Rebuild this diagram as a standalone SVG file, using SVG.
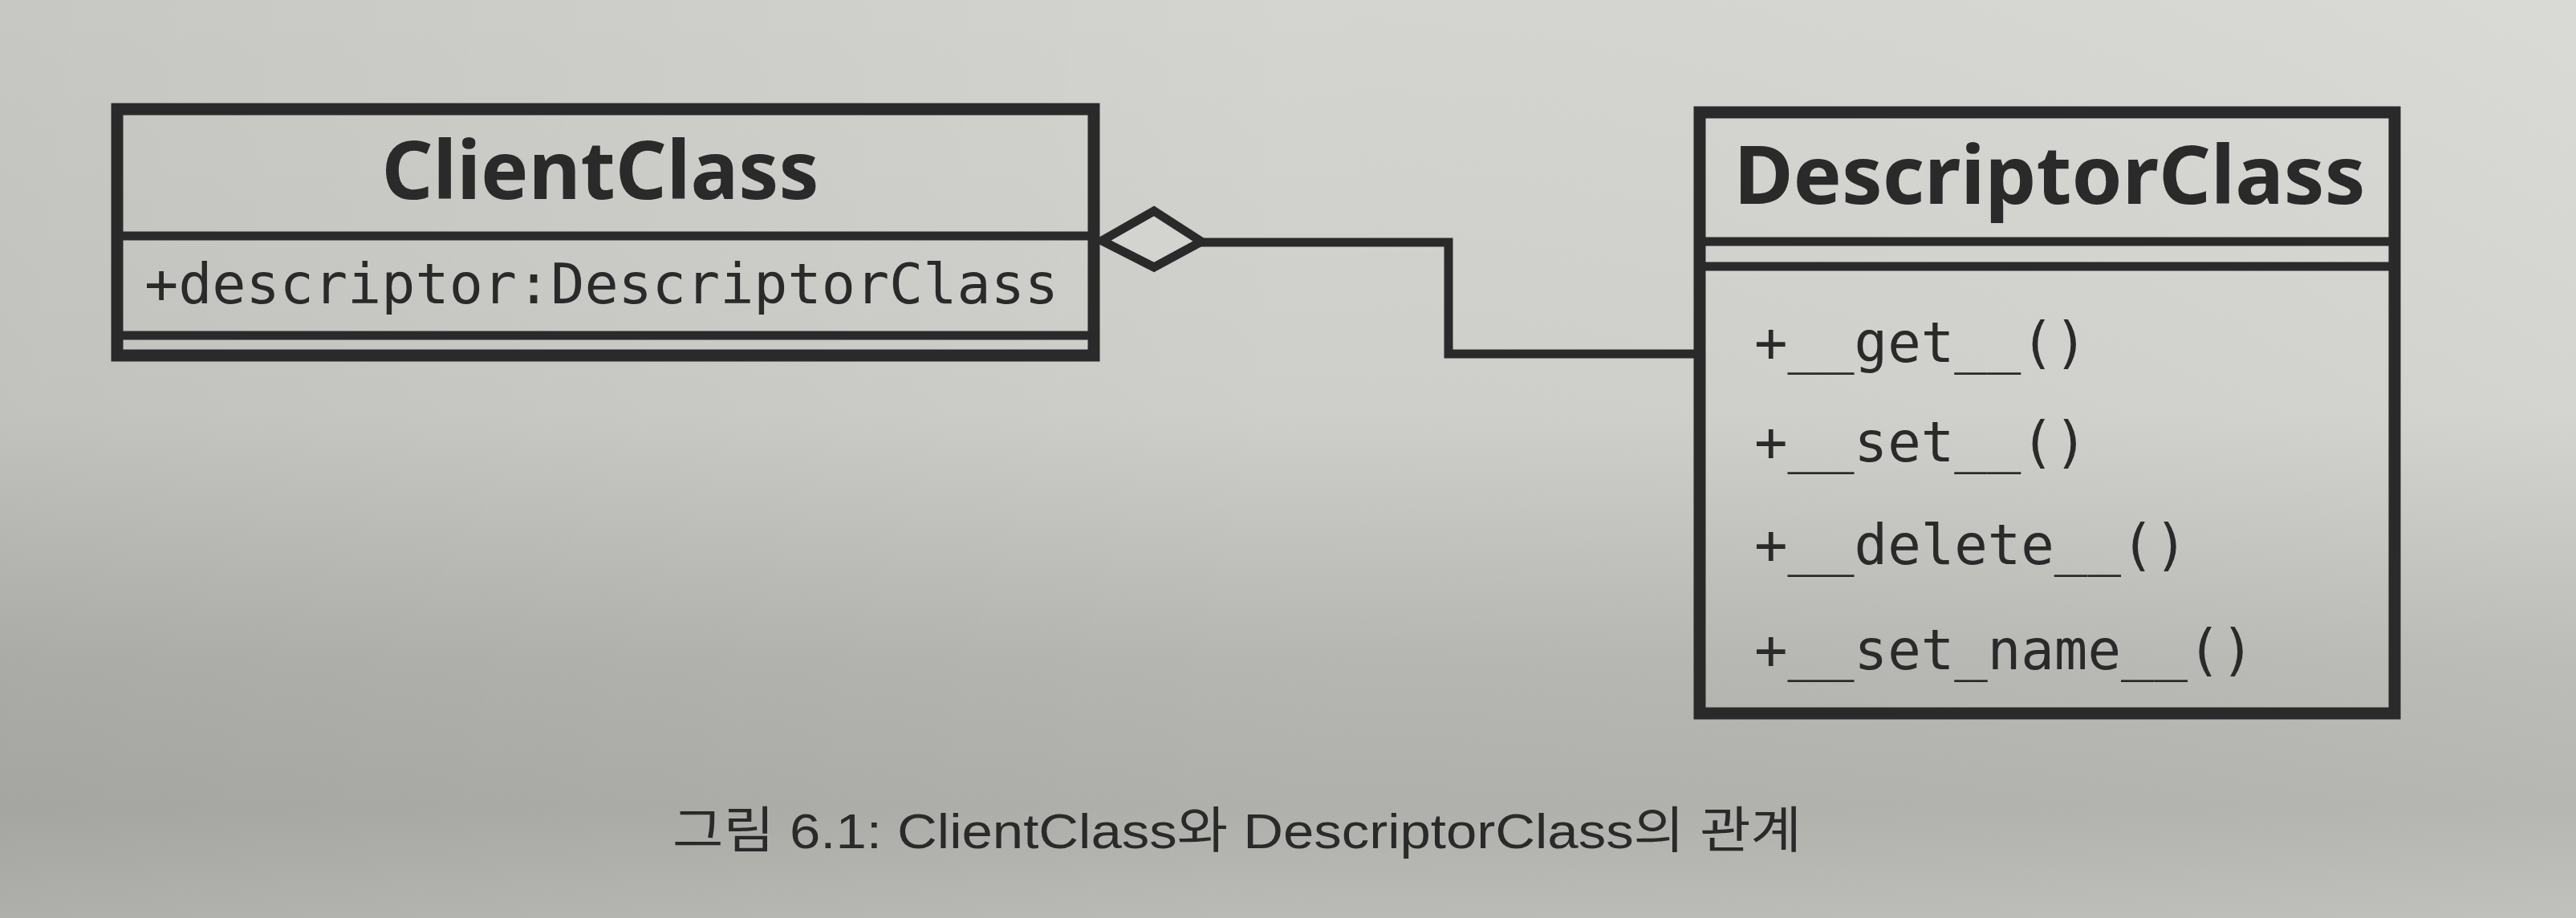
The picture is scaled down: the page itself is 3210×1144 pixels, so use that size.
<svg xmlns="http://www.w3.org/2000/svg" width="3210" height="1144" viewBox="0 0 3210 1144">
  <defs>
    <linearGradient id="bgv" x1="0" y1="0" x2="0" y2="1">
      <stop offset="0" stop-color="#d8d9d4"/>
      <stop offset="0.45" stop-color="#d2d3ce"/>
      <stop offset="0.72" stop-color="#b9bab5"/>
      <stop offset="0.88" stop-color="#b3b4af"/>
      <stop offset="1" stop-color="#bebfba"/>
    </linearGradient>
    <linearGradient id="bgh" x1="0" y1="0" x2="1" y2="0">
      <stop offset="0" stop-color="#000" stop-opacity="0.08"/>
      <stop offset="0.5" stop-color="#000" stop-opacity="0.02"/>
      <stop offset="1" stop-color="#fff" stop-opacity="0.04"/>
    </linearGradient>
  </defs>
  <style>
    .box { fill: none; stroke: #2a2a2a; stroke-width: 15; }
    .div { stroke: #2a2a2a; stroke-width: 11; }
    .title { font-family: "Noto Sans", "Open Sans", "DejaVu Sans", sans-serif; font-weight: bold; font-size: 100px; fill: #2a2a2a; }
    .mono { font-family: "DejaVu Sans Mono", "Liberation Mono", monospace; font-size: 69px; fill: #2a2a2a; }
    .conn { fill: none; stroke: #2a2a2a; stroke-width: 11; }
    .diamond { fill: #d3d4cf; stroke: #2a2a2a; stroke-width: 11; stroke-linejoin: miter; }
    .caption { font-family: "Liberation Sans", "Noto Sans CJK KR", sans-serif; font-size: 62px; fill: #2a2a2a; }
  </style>
  <rect x="0" y="0" width="3210" height="1144" fill="url(#bgv)"/>
  <rect x="0" y="0" width="3210" height="1144" fill="url(#bgh)"/>

  <g id="connectors">
    <polyline class="conn" points="1496,302 1805,302 1805,441 2118,441"/>
    <polygon class="diamond" points="1373,300 1438,263 1497,301 1438,333"/>
  </g>

  <g id="ClientClass">
    <rect class="box" x="146" y="136" width="1217" height="307"/>
    <line class="div" x1="146" y1="294" x2="1363" y2="294"/>
    <line class="div" x1="146" y1="418" x2="1363" y2="418"/>
    <text class="title" x="748" y="248" text-anchor="middle" textLength="545" lengthAdjust="spacingAndGlyphs">ClientClass</text>
    <text class="mono" x="180" y="378" font-size="70" textLength="1139" lengthAdjust="spacingAndGlyphs">+descriptor:DescriptorClass</text>
  </g>

  <g id="DescriptorClass">
    <rect class="box" x="2118" y="140" width="866" height="749"/>
    <line class="div" x1="2118" y1="301" x2="2984" y2="301"/>
    <line class="div" x1="2118" y1="332" x2="2984" y2="332"/>
    <text class="title" x="2554" y="254" text-anchor="middle" textLength="787" lengthAdjust="spacingAndGlyphs">DescriptorClass</text>
    <text class="mono" x="2186" y="451">+__get__()</text>
    <text class="mono" x="2186" y="575">+__set__()</text>
    <text class="mono" x="2186" y="703">+__delete__()</text>
    <text class="mono" x="2186" y="834">+__set_name__()</text>
  </g>

  <text class="caption" x="838" y="1057" textLength="1407" lengthAdjust="spacingAndGlyphs">그림 6.1: ClientClass와 DescriptorClass의 관계</text>
</svg>
